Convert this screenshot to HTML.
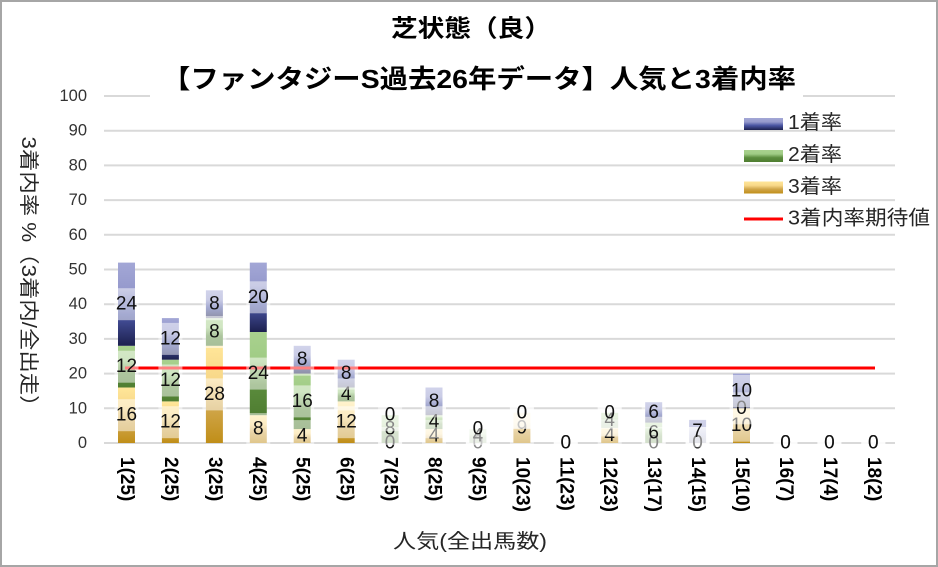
<!DOCTYPE html>
<html><head><meta charset="utf-8"><style>
html,body{margin:0;padding:0;background:#fff;}
svg{display:block;}
text{font-family:"Liberation Sans","Noto Sans CJK JP",sans-serif;}
</style></head><body>
<svg width="938" height="567" viewBox="0 0 938 567" xmlns="http://www.w3.org/2000/svg">
<defs>
<linearGradient id="gb" x1="0" y1="0" x2="0" y2="1">
<stop offset="0" stop-color="#a3a7d6"/><stop offset="0.33" stop-color="#9599cc"/><stop offset="0.62" stop-color="#4a55a3"/><stop offset="1" stop-color="#1c204e"/></linearGradient>
<linearGradient id="gg" x1="0" y1="0" x2="0" y2="1">
<stop offset="0" stop-color="#a9d18e"/><stop offset="0.33" stop-color="#a0cc85"/><stop offset="0.64" stop-color="#5b8c3d"/><stop offset="1" stop-color="#4f7d31"/></linearGradient>
<linearGradient id="gy" x1="0" y1="0" x2="0" y2="1">
<stop offset="0" stop-color="#ffe699"/><stop offset="0.33" stop-color="#f8d889"/><stop offset="0.64" stop-color="#d0a64a"/><stop offset="1" stop-color="#c08e18"/></linearGradient>
</defs>
<rect x="0" y="0" width="938" height="567" fill="#fff"/>
<rect x="1" y="1" width="936" height="565" fill="none" stroke="#a6a6a6" stroke-width="2"/>

<g stroke="#d9d9d9" stroke-width="2">
<line x1="104" y1="96" x2="150" y2="96"/><line x1="803" y1="96" x2="895" y2="96"/>
<line x1="104" y1="130.7" x2="895" y2="130.7"/>
<line x1="104" y1="165.4" x2="895" y2="165.4"/>
<line x1="104" y1="200.1" x2="895" y2="200.1"/>
<line x1="104" y1="234.8" x2="895" y2="234.8"/>
<line x1="104" y1="269.5" x2="895" y2="269.5"/>
<line x1="104" y1="304.2" x2="895" y2="304.2"/>
<line x1="104" y1="338.9" x2="895" y2="338.9"/>
<line x1="104" y1="373.6" x2="895" y2="373.6"/>
<line x1="104" y1="408.3" x2="895" y2="408.3"/>
<line x1="104" y1="443" x2="895" y2="443"/>
</g>

<g font-size="16.5" fill="#333" text-anchor="end" dominant-baseline="central">
<text x="87" y="96">100</text><text x="87" y="130.7">90</text><text x="87" y="165.4">80</text>
<text x="87" y="200.1">70</text><text x="87" y="234.8">60</text><text x="87" y="269.5">50</text>
<text x="87" y="304.2">40</text><text x="87" y="338.9">30</text><text x="87" y="373.6">20</text>
<text x="87" y="408.3">10</text><text x="87" y="443">0</text>
</g>

<g>
<rect x="118" y="387.5" width="17" height="55.5" fill="url(#gy)"/>
<rect x="118" y="345.8" width="17" height="41.7" fill="url(#gg)"/>
<rect x="118" y="262.6" width="17" height="83.2" fill="url(#gb)"/>

<rect x="161.9" y="401.4" width="17" height="41.6" fill="url(#gy)"/>
<rect x="161.9" y="359.7" width="17" height="41.7" fill="url(#gg)"/>
<rect x="161.9" y="318.1" width="17" height="41.6" fill="url(#gb)"/>

<rect x="205.9" y="345.8" width="17" height="97.2" fill="url(#gy)"/>
<rect x="205.9" y="318.1" width="17" height="27.7" fill="url(#gg)"/>
<rect x="205.9" y="290.3" width="17" height="27.8" fill="url(#gb)"/>

<rect x="249.8" y="415.2" width="17" height="27.8" fill="url(#gy)"/>
<rect x="249.8" y="332" width="17" height="83.2" fill="url(#gg)"/>
<rect x="249.8" y="262.6" width="17" height="69.4" fill="url(#gb)"/>

<rect x="293.7" y="429.1" width="17" height="13.9" fill="url(#gy)"/>
<rect x="293.7" y="373.6" width="17" height="55.5" fill="url(#gg)"/>
<rect x="293.7" y="345.8" width="17" height="27.8" fill="url(#gb)"/>

<rect x="337.7" y="401.4" width="17" height="41.6" fill="url(#gy)"/>
<rect x="337.7" y="387.5" width="17" height="13.9" fill="url(#gg)"/>
<rect x="337.7" y="359.7" width="17" height="27.8" fill="url(#gb)"/>

<rect x="381.6" y="415.2" width="17" height="27.8" fill="url(#gg)"/>

<rect x="425.5" y="429.1" width="17" height="13.9" fill="url(#gy)"/>
<rect x="425.5" y="415.2" width="17" height="13.9" fill="url(#gg)"/>
<rect x="425.5" y="387.5" width="17" height="27.7" fill="url(#gb)"/>

<rect x="469.4" y="429.1" width="17" height="13.9" fill="url(#gg)"/>

<rect x="513.4" y="412.8" width="17" height="30.2" fill="url(#gy)"/>

<rect x="601.2" y="427.9" width="17" height="15.1" fill="url(#gy)"/>
<rect x="601.2" y="412.8" width="17" height="15.1" fill="url(#gg)"/>

<rect x="645.2" y="422.6" width="17" height="20.4" fill="url(#gg)"/>
<rect x="645.2" y="402.2" width="17" height="20.4" fill="url(#gb)"/>

<rect x="689.1" y="419.9" width="17" height="23.1" fill="url(#gb)"/>

<rect x="733" y="408.3" width="17" height="34.7" fill="url(#gy)"/>
<rect x="733" y="373.6" width="17" height="34.7" fill="url(#gb)"/>
</g>

<line x1="125" y1="368" x2="875" y2="368" stroke="#ff0000" stroke-width="3"/>

<g font-size="19" fill="#111" text-anchor="middle" dominant-baseline="central">
<rect x="114.5" y="399.2" width="24" height="32" fill="#fff" fill-opacity="0.5"/><text x="126.5" y="415.2">16</text>
<rect x="158.4" y="406.2" width="24" height="32" fill="#fff" fill-opacity="0.5"/><text x="170.4" y="422.2">12</text>
<rect x="202.4" y="378.4" width="24" height="32" fill="#fff" fill-opacity="0.5"/><text x="214.4" y="394.4">28</text>
<rect x="246.3" y="413.1" width="24" height="32" fill="#fff" fill-opacity="0.5"/><text x="258.3" y="429.1">8</text>
<rect x="290.2" y="420.1" width="24" height="32" fill="#fff" fill-opacity="0.5"/><text x="302.2" y="436.1">4</text>
<rect x="334.2" y="406.2" width="24" height="32" fill="#fff" fill-opacity="0.5"/><text x="346.2" y="422.2">12</text>
<rect x="378.1" y="427" width="24" height="32" fill="#fff" fill-opacity="0.5"/><text x="390.1" y="443">0</text>
<rect x="422" y="420.1" width="24" height="32" fill="#fff" fill-opacity="0.5"/><text x="434" y="436.1">4</text>
<rect x="465.9" y="427" width="24" height="32" fill="#fff" fill-opacity="0.5"/><text x="477.9" y="443">0</text>
<rect x="509.9" y="411.9" width="24" height="32" fill="#fff" fill-opacity="0.5"/><text x="521.9" y="427.9">9</text>
<rect x="553.8" y="427" width="24" height="32" fill="#fff" fill-opacity="0.5"/><text x="565.8" y="443">0</text>
<rect x="597.7" y="419.5" width="24" height="32" fill="#fff" fill-opacity="0.5"/><text x="609.7" y="435.5">4</text>
<rect x="641.7" y="427" width="24" height="32" fill="#fff" fill-opacity="0.5"/><text x="653.7" y="443">0</text>
<rect x="685.6" y="427" width="24" height="32" fill="#fff" fill-opacity="0.5"/><text x="697.6" y="443">0</text>
<rect x="729.5" y="409.7" width="24" height="32" fill="#fff" fill-opacity="0.5"/><text x="741.5" y="425.7">10</text>
<rect x="773.5" y="427" width="24" height="32" fill="#fff" fill-opacity="0.5"/><text x="785.5" y="443">0</text>
<rect x="817.4" y="427" width="24" height="32" fill="#fff" fill-opacity="0.5"/><text x="829.4" y="443">0</text>
<rect x="861.3" y="427" width="24" height="32" fill="#fff" fill-opacity="0.5"/><text x="873.3" y="443">0</text>
</g>
<g font-size="19" fill="#111" text-anchor="middle" dominant-baseline="central">
<rect x="114.5" y="350.7" width="24" height="32" fill="#fff" fill-opacity="0.5"/><text x="126.5" y="366.7">12</text>
<rect x="158.4" y="364.5" width="24" height="32" fill="#fff" fill-opacity="0.5"/><text x="170.4" y="380.5">12</text>
<rect x="202.4" y="316" width="24" height="32" fill="#fff" fill-opacity="0.5"/><text x="214.4" y="332">8</text>
<rect x="246.3" y="357.6" width="24" height="32" fill="#fff" fill-opacity="0.5"/><text x="258.3" y="373.6">24</text>
<rect x="290.2" y="385.4" width="24" height="32" fill="#fff" fill-opacity="0.5"/><text x="302.2" y="401.4">16</text>
<rect x="334.2" y="378.4" width="24" height="32" fill="#fff" fill-opacity="0.5"/><text x="346.2" y="394.4">4</text>
<rect x="378.1" y="413.1" width="24" height="32" fill="#fff" fill-opacity="0.5"/><text x="390.1" y="429.1">8</text>
<rect x="422" y="406.2" width="24" height="32" fill="#fff" fill-opacity="0.5"/><text x="434" y="422.2">4</text>
<rect x="465.9" y="420.1" width="24" height="32" fill="#fff" fill-opacity="0.5"/><text x="477.9" y="436.1">4</text>
<rect x="509.9" y="396.8" width="24" height="32" fill="#fff" fill-opacity="0.5"/><text x="521.9" y="412.8">0</text>
<rect x="553.8" y="427" width="24" height="32" fill="#fff" fill-opacity="0.5"/><text x="565.8" y="443">0</text>
<rect x="597.7" y="404.4" width="24" height="32" fill="#fff" fill-opacity="0.5"/><text x="609.7" y="420.4">4</text>
<rect x="641.7" y="416.8" width="24" height="32" fill="#fff" fill-opacity="0.5"/><text x="653.7" y="432.8">6</text>
<rect x="685.6" y="427" width="24" height="32" fill="#fff" fill-opacity="0.5"/><text x="697.6" y="443">0</text>
<rect x="729.5" y="392.3" width="24" height="32" fill="#fff" fill-opacity="0.5"/><text x="741.5" y="408.3">0</text>
<rect x="773.5" y="427" width="24" height="32" fill="#fff" fill-opacity="0.5"/><text x="785.5" y="443">0</text>
<rect x="817.4" y="427" width="24" height="32" fill="#fff" fill-opacity="0.5"/><text x="829.4" y="443">0</text>
<rect x="861.3" y="427" width="24" height="32" fill="#fff" fill-opacity="0.5"/><text x="873.3" y="443">0</text>
</g>
<g font-size="19" fill="#111" text-anchor="middle" dominant-baseline="central">
<rect x="114.5" y="288.2" width="24" height="32" fill="#fff" fill-opacity="0.5"/><text x="126.5" y="304.2">24</text>
<rect x="158.4" y="322.9" width="24" height="32" fill="#fff" fill-opacity="0.5"/><text x="170.4" y="338.9">12</text>
<rect x="202.4" y="288.2" width="24" height="32" fill="#fff" fill-opacity="0.5"/><text x="214.4" y="304.2">8</text>
<rect x="246.3" y="281.3" width="24" height="32" fill="#fff" fill-opacity="0.5"/><text x="258.3" y="297.3">20</text>
<rect x="290.2" y="343.7" width="24" height="32" fill="#fff" fill-opacity="0.5"/><text x="302.2" y="359.7">8</text>
<rect x="334.2" y="357.6" width="24" height="32" fill="#fff" fill-opacity="0.5"/><text x="346.2" y="373.6">8</text>
<rect x="378.1" y="399.2" width="24" height="32" fill="#fff" fill-opacity="0.5"/><text x="390.1" y="415.2">0</text>
<rect x="422" y="385.4" width="24" height="32" fill="#fff" fill-opacity="0.5"/><text x="434" y="401.4">8</text>
<rect x="465.9" y="413.1" width="24" height="32" fill="#fff" fill-opacity="0.5"/><text x="477.9" y="429.1">0</text>
<rect x="509.9" y="396.8" width="24" height="32" fill="#fff" fill-opacity="0.5"/><text x="521.9" y="412.8">0</text>
<rect x="553.8" y="427" width="24" height="32" fill="#fff" fill-opacity="0.5"/><text x="565.8" y="443">0</text>
<rect x="597.7" y="396.8" width="24" height="32" fill="#fff" fill-opacity="0.5"/><text x="609.7" y="412.8">0</text>
<rect x="641.7" y="396.4" width="24" height="32" fill="#fff" fill-opacity="0.5"/><text x="653.7" y="412.4">6</text>
<rect x="685.6" y="415.4" width="24" height="32" fill="#fff" fill-opacity="0.5"/><text x="697.6" y="431.4">7</text>
<rect x="729.5" y="375" width="24" height="32" fill="#fff" fill-opacity="0.5"/><text x="741.5" y="391">10</text>
<rect x="773.5" y="427" width="24" height="32" fill="#fff" fill-opacity="0.5"/><text x="785.5" y="443">0</text>
<rect x="817.4" y="427" width="24" height="32" fill="#fff" fill-opacity="0.5"/><text x="829.4" y="443">0</text>
<rect x="861.3" y="427" width="24" height="32" fill="#fff" fill-opacity="0.5"/><text x="873.3" y="443">0</text>
</g>

<g font-size="19" font-weight="bold" fill="#000" dominant-baseline="central">
<text transform="translate(126.5,457) rotate(90)">1(25)</text>
<text transform="translate(170.4,457) rotate(90)">2(25)</text>
<text transform="translate(214.4,457) rotate(90)">3(25)</text>
<text transform="translate(258.3,457) rotate(90)">4(25)</text>
<text transform="translate(302.2,457) rotate(90)">5(25)</text>
<text transform="translate(346.2,457) rotate(90)">6(25)</text>
<text transform="translate(390.1,457) rotate(90)">7(25)</text>
<text transform="translate(434,457) rotate(90)">8(25)</text>
<text transform="translate(477.9,457) rotate(90)">9(25)</text>
<text transform="translate(521.9,457) rotate(90)">10(23)</text>
<text transform="translate(565.8,457) rotate(90)">11(23)</text>
<text transform="translate(609.7,457) rotate(90)">12(23)</text>
<text transform="translate(653.7,457) rotate(90)">13(17)</text>
<text transform="translate(697.6,457) rotate(90)">14(15)</text>
<text transform="translate(741.5,457) rotate(90)">15(10)</text>
<text transform="translate(785.5,457) rotate(90)">16(7)</text>
<text transform="translate(829.4,457) rotate(90)">17(4)</text>
<text transform="translate(873.3,457) rotate(90)">18(2)</text>
</g>

<text transform="translate(28,277) rotate(90)" font-size="20" fill="#262626" text-anchor="middle" dominant-baseline="central" textLength="281" lengthAdjust="spacingAndGlyphs">3着内率 %（3着内/全出走）</text>
<text x="470" y="542" font-size="20" fill="#262626" text-anchor="middle" dominant-baseline="central" textLength="154" lengthAdjust="spacingAndGlyphs">人気(全出馬数)</text>

<text x="391" y="29" font-size="24" font-weight="bold" fill="#000" dominant-baseline="central" textLength="160" lengthAdjust="spacingAndGlyphs">芝状態（良）</text>
<text x="162" y="79" font-size="26" font-weight="bold" fill="#000" dominant-baseline="central" textLength="634" lengthAdjust="spacingAndGlyphs">【ファンタジーS過去26年データ】人気と3着内率</text>

<rect x="744" y="118" width="39" height="12" fill="url(#gb)"/>
<rect x="744" y="150" width="39" height="12" fill="url(#gg)"/>
<rect x="744" y="181.5" width="39" height="12" fill="url(#gy)"/>
<line x1="744" y1="219" x2="783" y2="219" stroke="#ff0000" stroke-width="3"/>
<g font-size="20" fill="#262626" dominant-baseline="central">
<text x="788" y="123" textLength="54" lengthAdjust="spacingAndGlyphs">1着率</text>
<text x="788" y="155" textLength="54" lengthAdjust="spacingAndGlyphs">2着率</text>
<text x="788" y="187" textLength="54" lengthAdjust="spacingAndGlyphs">3着率</text>
<text x="788" y="218.5" textLength="142" lengthAdjust="spacingAndGlyphs">3着内率期待値</text>
</g>
</svg>
</body></html>
